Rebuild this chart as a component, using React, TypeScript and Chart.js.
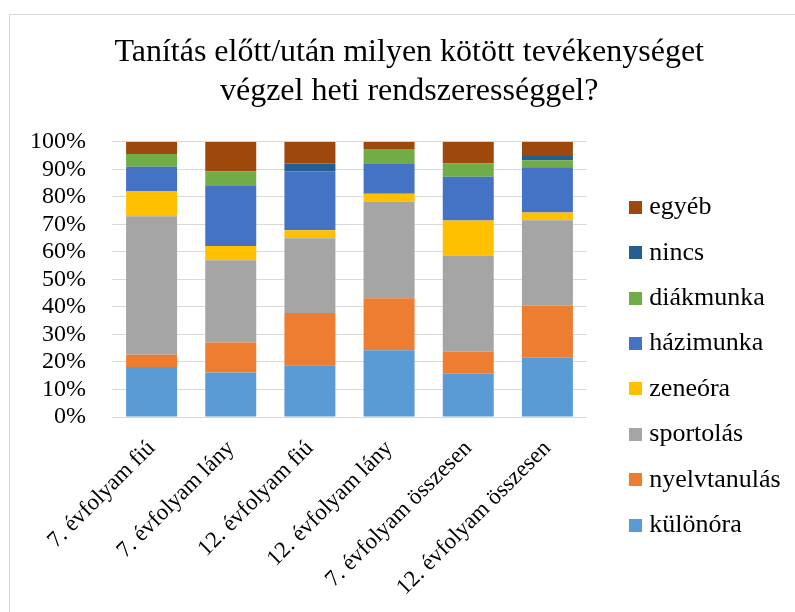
import React, { useEffect, useRef } from "react";
import { Chart, registerables } from "chart.js";

Chart.register(...registerables);

const categories = [
  "7. évfolyam fiú",
  "7. évfolyam lány",
  "12. évfolyam fiú",
  "12. évfolyam lány",
  "7. évfolyam összesen",
  "12. évfolyam összesen",
];

const kulonora = [18.2, 16.2, 18.8, 24.2, 15.7, 21.5];
const nyelvtanulas = [4.4, 10.9, 19.0, 18.9, 8.0, 18.9];
const sportolas = [50.3, 29.8, 27.1, 35.1, 35.0, 31.1];
const zeneora = [9.2, 5.2, 2.9, 2.9, 12.7, 2.8];
const hazimunka = [8.8, 21.8, 21.5, 10.8, 15.9, 16.4];
const diakmunka = [4.6, 5.4, 0, 5.4, 4.8, 2.6];
const nincs = [0, 0, 2.8, 0, 0, 1.5];
const egyeb = [4.5, 10.7, 7.9, 2.7, 7.9, 5.2];

const seriesNames = [
  "különóra",
  "nyelvtanulás",
  "sportolás",
  "zeneóra",
  "házimunka",
  "diákmunka",
  "nincs",
  "egyéb",
];
const seriesValues = [kulonora, nyelvtanulas, sportolas, zeneora, hazimunka, diakmunka, nincs, egyeb];
const seriesColors = ["#5B9BD5", "#ED7D31", "#A5A5A5", "#FFC000", "#4472C4", "#70AD47", "#255E91", "#9E480E"];

const titleLines = ["Tanítás előtt/után milyen kötött tevékenységet", "végzel heti rendszerességgel?"];

const FONT = "'Liberation Serif', 'Times New Roman', serif";

function makeSwatch(color: string) {
  const c = document.createElement("canvas");
  c.width = 13;
  c.height = 13;
  const ctx = c.getContext("2d")!;
  ctx.fillStyle = color;
  ctx.fillRect(0, 0, 13, 13);
  return c;
}

export default function App() {
  const ref = useRef<HTMLCanvasElement | null>(null);

  useEffect(() => {
    if (!ref.current) return;
    const swatches = seriesColors.map(makeSwatch);

    const placePlugin = {
      id: "placeBlocks",
      afterLayout(chart: any) {
        const t = chart.titleBlock;
        if (t) {
          const w = t.right - t.left;
          t.left = 409.2 - w / 2;
          t.right = 409.2 + w / 2;
        }
        const l = chart.legend;
        if (l) {
          l.left = 615.9;
          l.right = 795;
          l.width = l.right - l.left;
          l.top = 174.9;
          l.height = l.bottom - l.top;
        }
      },
    };

    const chart = new Chart(ref.current, {
      type: "bar",
      data: {
        labels: categories,
        datasets: seriesNames.map((name, i) => ({
          label: name,
          data: seriesValues[i],
          backgroundColor: seriesColors[i],
          borderWidth: 0,
          barPercentage: 0.644,
          categoryPercentage: 1,
        })),
      },
      options: {
        responsive: false,
        animation: false,
        devicePixelRatio: 1,
        layout: { padding: { left: 0, right: 58, top: 0, bottom: 0 } },
        plugins: {
          title: {
            display: true,
            text: titleLines,
            color: "#000",
            font: { family: FONT, size: 32, weight: "normal", lineHeight: 1.22 },
            padding: { top: 33, bottom: 30.6 },
          },
          legend: {
            position: "right",
            align: "start",
            reverse: true,
            maxWidth: 150,
            labels: {
              usePointStyle: true,
              pointStyleWidth: 1,
              padding: 19.4,
              color: "#000",
              font: { family: FONT, size: 26 },
              generateLabels: (c: any) => {
                const items = (Chart.defaults.plugins.legend.labels as any).generateLabels(c);
                return items.map((it: any) => ({ ...it, pointStyle: swatches[it.datasetIndex] }));
              },
            },
          },
          tooltip: { enabled: false },
        },
        scales: {
          x: {
            stacked: true,
            grid: { display: false, drawTicks: false },
            border: { display: false },
            ticks: {
              color: "#000",
              font: { family: FONT, size: 23 },
              minRotation: 45,
              maxRotation: 45,
              autoSkip: false,
              padding: 18,
            },
            afterFit: (s: any) => {
              s.height = 195;
            },
          },
          y: {
            stacked: true,
            min: 0,
            max: 100,
            grid: { color: "#d9d9d9", lineWidth: 1, drawTicks: false },
            border: { display: false },
            ticks: {
              stepSize: 10,
              autoSkip: false,
              color: "#000",
              font: { family: FONT, size: 24 },
              padding: 26,
              callback: (v: any) => v + "%",
            },
            afterFit: (s: any) => {
              s.width = 112;
            },
          },
        },
      },
      plugins: [placePlugin],
    });
    return () => chart.destroy();
  }, []);

  return (
    <div style={{ position: "fixed", left: 0, top: 0, width: 795, height: 612, overflow: "hidden", background: "#fff" }}>
      <div
        style={{
          position: "absolute",
          left: 9,
          top: 14,
          width: 820,
          height: 700,
          border: "1px solid #d9d9d9",
          boxSizing: "border-box",
        }}
      />
      <canvas ref={ref} width={795} height={612} style={{ position: "absolute", left: 0, top: 0 }} />
    </div>
  );
}
